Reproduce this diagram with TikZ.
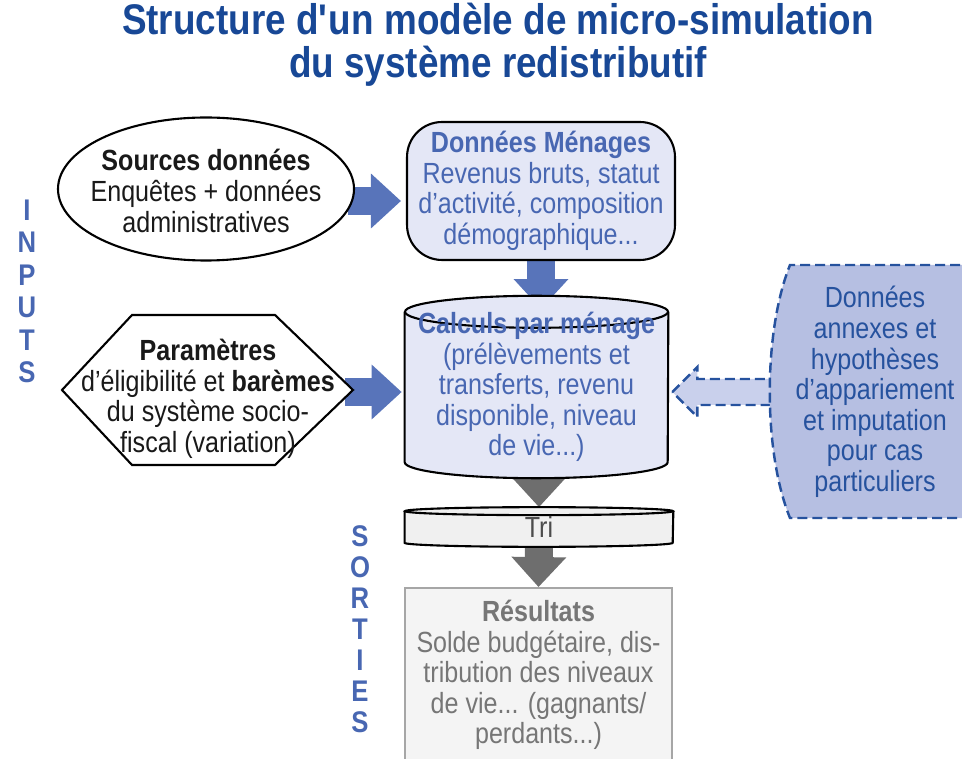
\documentclass[tikz,border=0pt]{standalone}
\usepackage{fontspec}
\setmainfont{Liberation Sans}[FakeStretch=0.86]
\usetikzlibrary{positioning,arrows.meta,calc}

\definecolor{titleblue}{RGB}{24,72,150}
\definecolor{textblue}{RGB}{72,103,178}
\definecolor{arrowblue}{RGB}{88,116,186}
\definecolor{boxfill}{RGB}{228,231,246}
\definecolor{annexfill}{RGB}{182,191,226}
\definecolor{annexline}{RGB}{38,82,158}
\definecolor{annexarrfill}{RGB}{201,208,236}
\definecolor{arrowgray}{RGB}{110,110,110}
\definecolor{resgray}{RGB}{118,118,118}
\definecolor{resline}{RGB}{166,166,166}
\definecolor{resfill}{RGB}{244,244,244}
\definecolor{trifill}{RGB}{240,240,240}

\pgfdeclarelayer{back}
\pgfsetlayers{back,main}

\begin{document}
\begin{tikzpicture}[
  x=0.02cm, y=0.02cm,
  txt/.style={font=\fontsize{16.6}{17.4}\selectfont, align=center, inner sep=0pt},
  titletxt/.style={font=\fontsize{24.4}{24.4}\selectfont\bfseries, text=titleblue, align=center},
  sideletter/.style={font=\fontsize{17}{18}\selectfont\bfseries, text=textblue, inner sep=0pt},
  outline/.style={draw=black, line width=1.2pt},
  bluebox/.style={txt, text=textblue},
  blockarr/.style={line width=0.56cm, -{Triangle[length=0.6cm, width=1.06cm]}},
  bluearr/.style={blockarr, arrowblue},
  grayarr/.style={blockarr, arrowgray},
  dashline/.style={line width=1.4pt, dash pattern=on 0.2cm off 0.1cm},
]
  \useasboundingbox (0,0) rectangle (962,-759);
  \clip (0,0) rectangle (962,-759);

  % Title
  \node[titletxt] (title) at (498,-45)
    {Structure d\textquotesingle un modèle de micro-simulation\\du système redistributif};

  % Side labels
  \foreach \ch [count=\i] in {I,N,P,U,T,S}
    \node[sideletter] (in\i) at (27,{-210-32.5*(\i-1)}) {\ch};
  \foreach \ch [count=\i] in {S,O,R,T,I,E,S}
    \node[sideletter] (out\i) at (360,{-536-31*(\i-1)}) {\ch};

  % Nodes
  \node[txt, text=black!90] (sources) at (206,-191)
    {\textbf{Sources données}\\Enquêtes + données\\administratives};
  \node[bluebox, outline, fill=boxfill, rounded corners=0.7cm,
        minimum width=5.36cm, minimum height=2.76cm] (menage) at (541,-191)
    {\textbf{Données Ménages}\\Revenus bruts, statut\\d’activité, composition\\démographique...};
  \node[txt, text=black!90] (param) at (208,-399)
    {\textbf{Paramètres}\\d’éligibilité et \textbf{barèmes}\\du système socio-\\fiscal (variation)};
  \node[bluebox, minimum width=5.26cm, minimum height=2.48cm] (calc) at (536.5,-387)
    {\textbf{Calculs par ménage}\\(prélèvements et\\transferts, revenu\\disponible, niveau\\de vie...)};
  \node[txt, text=annexline] (annex) at (875,-392)
    {Données\\annexes et\\hypothèses\\d’appariement\\et imputation\\pour cas\\particuliers};
  \node[txt, text=black!70, minimum width=5.36cm, minimum height=0.62cm] (tri) at (539,-527) {Tri};
  \node[txt, text=resgray, draw=resline, line width=1.1pt, fill=resfill,
        minimum width=5.34cm, minimum height=3.48cm] (res) at (538.5,-675)
    {\textbf{Résultats}\\Solde budgétaire, dis-\\tribution des niveaux\\de vie... (gagnants/\\perdants...)};

  \begin{pgfonlayer}{back}
    % Block arrows
    \draw[bluearr] ($(sources)+(142,-10)$) -- ($(menage.west)+(-5,-10)$);
    \draw[bluearr] (menage.south) -- ++(0,-48);
    \draw[bluearr] ($(param)+(137,7)$) -- ($(calc.west)+(-3,-5)$);
    \draw[grayarr] ($(calc.south)+(2.5,-15)$) -- ($(tri.north)+(0,4)$);
    \draw[grayarr] ($(tri.south)+(0,-4)$) -- (res.north);
    \path[fill=annexarrfill, draw=annexline, dashline]
      ($(calc.east)+(4,-5)$) -- ++(25,25) -- ++(0,-12) -- ++(75,0)
      -- ++(0,-26) -- ++(-75,0) -- ++(0,-12) -- cycle;

    % Shapes round the texts
    \draw[outline, fill=white] (206,-189) ellipse [x radius=148, y radius=71.5];
    \draw[outline, fill=white] ($(param)+(-146,9)$) -- ++(70,75) -- ++(143,0)
      -- ++(78,-75) -- ++(-78,-75) -- ++(-143,0) -- cycle;
    \path[fill=boxfill] (calc.north west) -- (calc.south west)
      arc[start angle=180, end angle=360, x radius=131.5, y radius=16]
      -- (calc.north east)
      arc[start angle=0, end angle=180, x radius=131.5, y radius=16] -- cycle;
    \draw[outline] (calc.north west) -- (calc.south west)
      arc[start angle=180, end angle=360, x radius=131.5, y radius=16] -- (calc.north east);
    \draw[outline] (calc.north) ellipse [x radius=131.5, y radius=16];
    \path[fill=trifill] (tri.north west) -- (tri.south west)
      arc[start angle=180, end angle=360, x radius=134, y radius=4]
      -- (tri.north east)
      arc[start angle=0, end angle=180, x radius=134, y radius=4] -- cycle;
    \draw[outline] (tri.north west) -- (tri.south west)
      arc[start angle=180, end angle=360, x radius=134, y radius=4] -- (tri.north east);
    \draw[outline] (tri.north) ellipse [x radius=134, y radius=4];
    \path[fill=annexfill, draw=annexline, dashline]
      ($(annex)+(100,127)$) -- ($(annex)+(-85,127)$)
      .. controls ($(annex)+(-112,60)$) and ($(annex)+(-112,-60)$) ..
      ($(annex)+(-85,-126)$) -- ($(annex)+(100,-126)$);
  \end{pgfonlayer}
\end{tikzpicture}
\end{document}
